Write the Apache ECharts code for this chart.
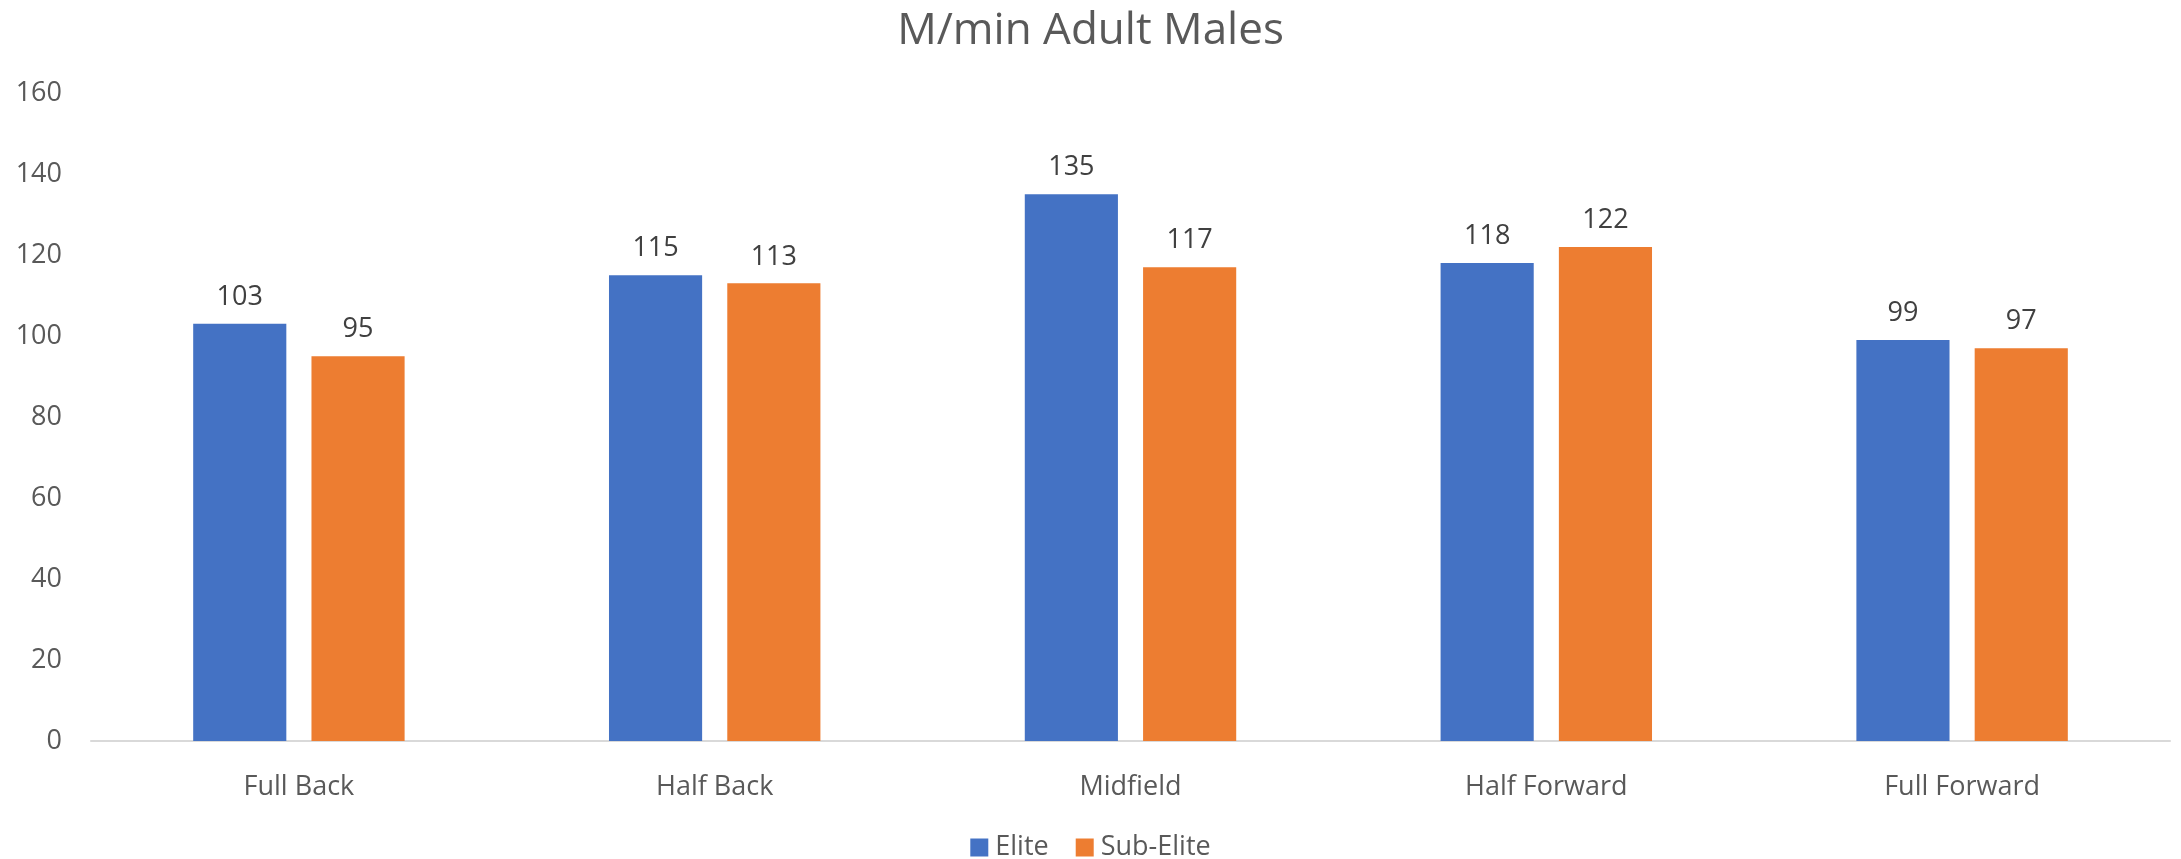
<!DOCTYPE html>
<html>
<head>
<meta charset="utf-8">
<script src="https://cdn.jsdelivr.net/npm/echarts@6/dist/echarts.min.js"></script>
<style>
  html, body { margin: 0; padding: 0; background: #ffffff; }
  #chart { width: 2181px; height: 859px; }
</style>
</head>
<body>
<div id="chart"></div>
<script>
// Positions on the field
const categories = ['Full Back', 'Half Back', 'Midfield', 'Half Forward', 'Full Forward'];
// Metres per minute by playing level
const eliteValues = [103, 115, 135, 118, 99];
const subEliteValues = [95, 113, 117, 122, 97];
const seriesNames = ['Elite', 'Sub-Elite'];

const FONT = '"Open Sans", "Noto Sans", sans-serif';
const chart = echarts.init(document.getElementById('chart'), null, { renderer: 'canvas' });

const labelStyle = {
  show: true,
  position: 'top',
  distance: 13,
  color: '#404040',
  fontFamily: FONT,
  fontSize: 27
};

chart.setOption({
  animation: false,
  backgroundColor: '#ffffff',
  title: {
    text: 'M/min Adult Males',
    left: 'center',
    top: 4,
    textStyle: { color: '#595959', fontFamily: FONT, fontSize: 44, fontWeight: 'normal' }
  },
  legend: {
    data: seriesNames,
    top: 834,
    left: 'center',
    padding: 0,
    itemWidth: 18,
    itemHeight: 18,
    itemGap: 27,
    icon: 'rect',
    textStyle: { color: '#595959', fontFamily: FONT, fontSize: 27, padding: [0, 0, 0, 2] }
  },
  grid: { left: 91, right: 11, top: 93, bottom: 118, containLabel: false },
  xAxis: {
    type: 'category',
    data: categories,
    axisLine: { show: true, lineStyle: { color: '#d9d9d9', width: 2 } },
    axisTick: { show: false },
    axisLabel: { color: '#595959', fontFamily: FONT, fontSize: 27, margin: 33 }
  },
  yAxis: {
    type: 'value',
    min: 0,
    max: 160,
    interval: 20,
    axisLine: { show: false },
    axisTick: { show: false },
    splitLine: { show: false },
    axisLabel: { color: '#595959', fontFamily: FONT, fontSize: 27, margin: 29 }
  },
  series: [
    {
      name: seriesNames[0],
      type: 'bar',
      data: eliteValues,
      barWidth: '22.4%',
      barGap: '27%',
      itemStyle: { color: '#4472C4' },
      label: labelStyle
    },
    {
      name: seriesNames[1],
      type: 'bar',
      data: subEliteValues,
      barWidth: '22.4%',
      barGap: '27%',
      itemStyle: { color: '#ED7D31' },
      label: labelStyle
    }
  ]
});
</script>
</body>
</html>
